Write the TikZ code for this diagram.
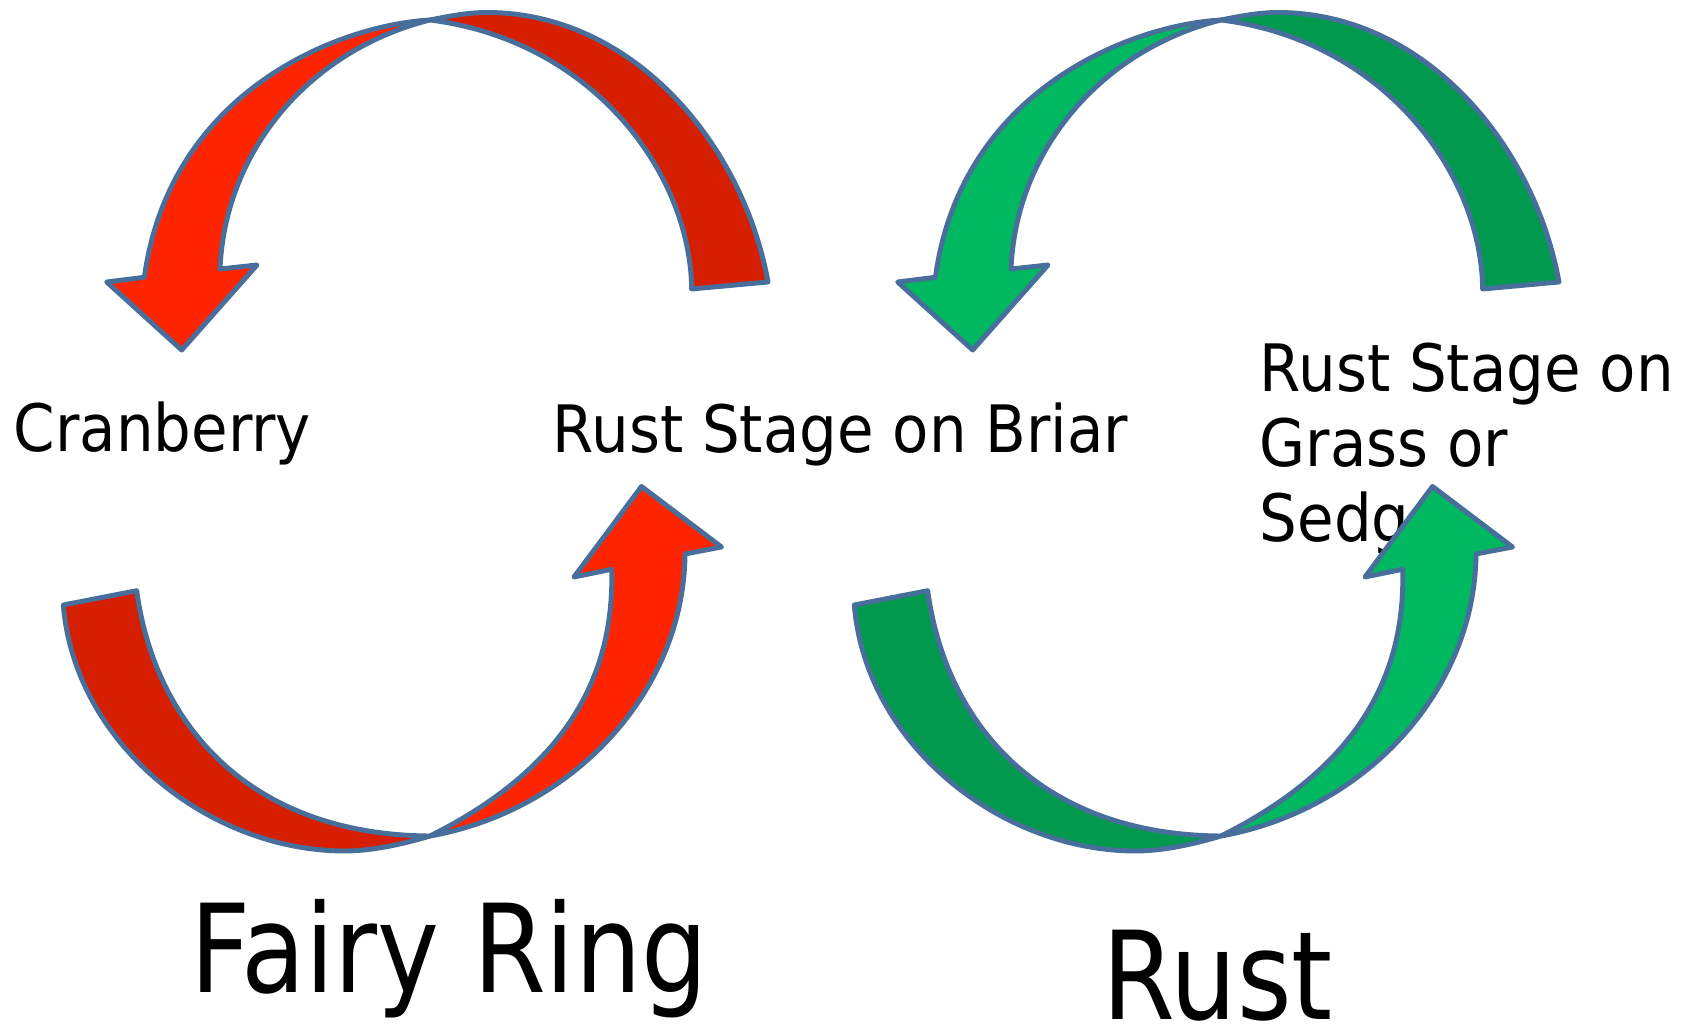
\documentclass[tikz,border=0pt]{standalone}
\usepackage{fontspec}
\setmainfont{DejaVu Sans}
\definecolor{redLight}{RGB}{255,36,0}
\definecolor{redDark}{RGB}{214,31,0}
\definecolor{greenLight}{RGB}{0,184,96}
\definecolor{greenDark}{RGB}{0,153,77}
\definecolor{edgeBlue}{RGB}{72,111,155}
\newcommand{\RingTop}[2]{%
  % light half with arrow head
  \filldraw[band, fill=#1]
    (144.4,277.3) -- (106.7,282) -- (181.7,350) -- (257,265) -- (220,269)
    .. controls (225,150) and (310,50) .. (430,20)
    .. controls (340,25) and (170,90) .. (144.4,277.3) -- cycle;
  % dark half (tail)
  \filldraw[band, fill=#2]
    (430,20) .. controls (450,16) and (468,12.5) .. (487,12.5)
    .. controls (630,12.5) and (742,140) .. (768,282)
    -- (691.7,289)
    .. controls (690,170) and (590,40) .. (430,20) -- cycle;
}
\newcommand{\RingBottom}[2]{%
  % dark half (tail)
  \filldraw[band, fill=#2]
    (63.3,605) -- (136.7,590.7)
    .. controls (155,725) and (250,835) .. (430,836)
    .. controls (400,845) and (370,851) .. (345,851)
    .. controls (210,851) and (75,745) .. (63.3,605) -- cycle;
  % light half with arrow head
  \filldraw[band, fill=#1]
    (430,836) .. controls (552,775) and (615,690) .. (611.7,569.3)
    -- (574,577) -- (641.5,486.5) -- (721.5,547) -- (685,554)
    .. controls (684,690) and (575,810) .. (430,836) -- cycle;
}
\begin{document}
\begin{tikzpicture}[x=0.01cm, y=-0.01cm,
  band/.style={draw=edgeBlue, line width=1.4pt, line join=round},
  lbl/.style={anchor=base west, inner sep=0pt, font=\fontsize{16.9}{20}\selectfont},
  title/.style={anchor=base west, inner sep=0pt, font=\fontsize{29.8}{34}\selectfont}]
  \fill[white] (0,0) rectangle (1690,1031);
  \useasboundingbox (0,0) rectangle (1690,1031);

  % labels (drawn first so the arrows lie over them)
  \node[lbl] (cran) at (13,452) {\scalebox{1}[1.1]{Cranberry}};
  \node[lbl] (briar) at (552,453) {\scalebox{1}[1.1]{Rust Stage on Briar}};
  \node[lbl] (grassA) at (1259,392) {\scalebox{1}[1.1]{Rust Stage on}};
  \node[lbl] (grassB) at (1259,467) {\scalebox{1}[1.1]{Grass or}};
  \node[lbl] (grassC) at (1259,542) {\scalebox{1}[1.1]{Sedge}};
  \node[title] (fairy) at (190,993) {\scalebox{1}[1.17]{Fairy Ring}};
  \node[title] (rust) at (1102,1020) {\scalebox{1}[1.17]{Rust}};

  % fairy ring cycle (red)
  \RingTop{redLight}{redDark}
  \RingBottom{redLight}{redDark}

  % rust cycle (green)
  \begin{scope}[shift={(791,0)}]
    \RingTop{greenLight}{greenDark}
    \RingBottom{greenLight}{greenDark}
  \end{scope}
\end{tikzpicture}
\end{document}
